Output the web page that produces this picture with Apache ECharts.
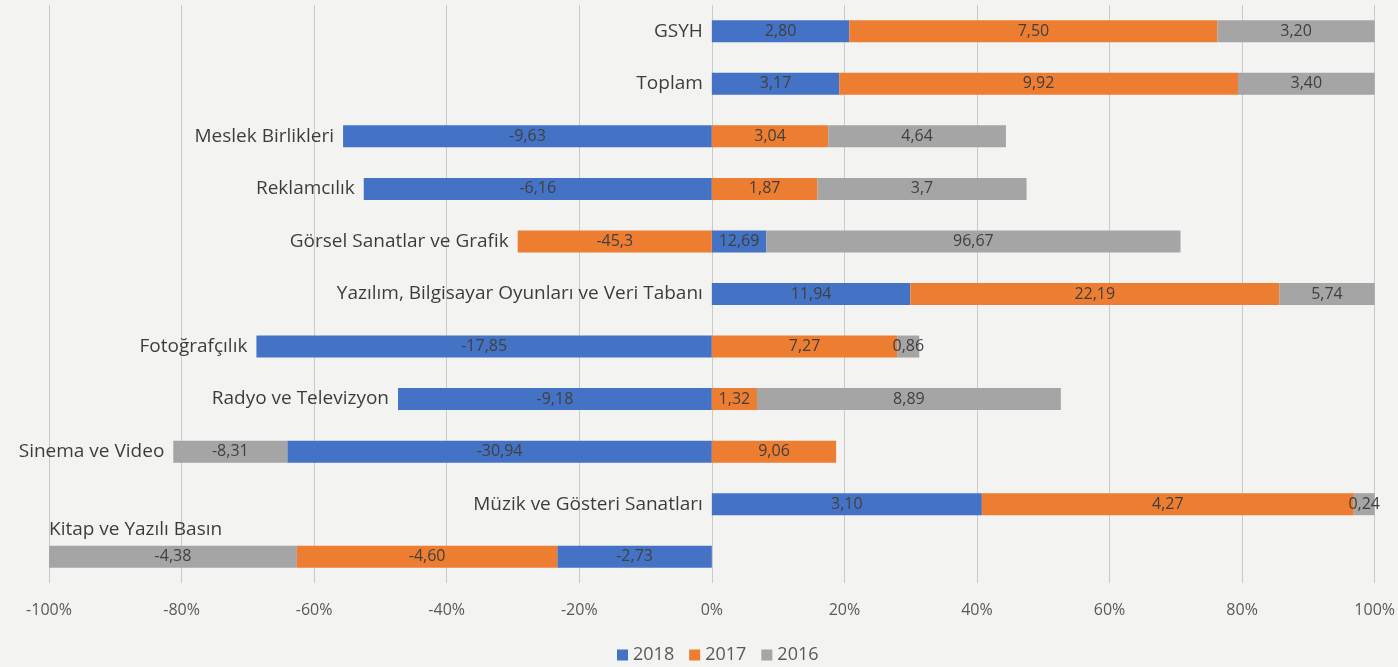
<!DOCTYPE html>
<html>
<head>
<meta charset="utf-8">
<script src="https://cdn.jsdelivr.net/npm/echarts@6/dist/echarts.min.js"></script>
<style>
html,body{margin:0;padding:0;background:#f3f3f1;}
#c{width:1398px;height:667px;}
</style>
</head>
<body>
<div id="c"></div>
<script>
var categories = ['GSYH','Toplam','Meslek Birlikleri','Reklamcılık','Görsel Sanatlar ve Grafik','Yazılım, Bilgisayar Oyunları ve Veri Tabanı','Fotoğrafçılık','Radyo ve Televizyon','Sinema ve Video','Müzik ve Gösteri Sanatları','Kitap ve Yazılı Basın'];
var seriesNames = ['2018','2017','2016'];
var v2018 = ['2.80','3.17','-9.63','-6.16','12.69','11.94','-17.85','-9.18','-30.94','3.10','-2.73'];
var v2017 = ['7.50','9.92','3.04','1.87','-45.3','22.19','7.27','1.32','9.06','4.27','-4.60'];
var v2016 = ['3.20','3.40','4.64','3.7','96.67','5.74','0.86','8.89','-8.31','0.24','-4.38'];
var xTicks = {min:-100, max:100, interval:20};
var colors = ['#4472C4','#ED7D31','#A5A5A5'];

var raw = [v2018, v2017, v2016];
var totals = categories.map(function(_, i){
  return raw.reduce(function(s, arr){ return s + Math.abs(parseFloat(arr[i])); }, 0);
});
var negEnds = categories.map(function(_, i){
  var n = raw.reduce(function(s, arr){ var v = parseFloat(arr[i]); return s + (v < 0 ? v : 0); }, 0);
  return n / totals[i] * 100;
});

var barSeries = raw.map(function(arr, k){
  return {
    name: seriesNames[k],
    type: 'bar',
    stack: 'total',
    barWidth: 22,
    itemStyle: {color: colors[k]},
    label: {
      show: true,
      position: 'inside',
      color: '#404040',
      fontSize: 16,
      fontFamily: 'Open Sans',
      formatter: function(p){ return arr[p.dataIndex].replace('.', ','); }
    },
    data: arr.map(function(s, i){ return parseFloat(s) / totals[i] * 100; })
  };
});

var nameSeries = {
  type: 'scatter',
  symbolSize: 0,
  silent: true,
  z: 5,
  label: {
    show: true,
    position: 'left',
    distance: 9,
    color: '#0d0d0d',
    fontSize: 19,
    fontFamily: 'Open Sans',
    formatter: function(p){ return categories[p.dataIndex]; }
  },
  data: categories.map(function(c, i){
    var d = {value: [negEnds[i], i]};
    if (negEnds[i] <= -99.9) {
      d.label = {position: [0, -27], align: 'left', verticalAlign: 'middle'};
    }
    return d;
  })
};

var chart = echarts.init(document.getElementById('c'));
chart.setOption({
  backgroundColor: '#f3f3f1',
  animation: false,
  grid: {left: 49, right: 23, top: 5, bottom: 84},
  legend: {
    data: seriesNames,
    top: 641,
    left: 612,
    itemWidth: 11,
    itemHeight: 11,
    itemGap: 15,
    icon: 'rect',
    textStyle: {color: '#595959', fontSize: 18, fontFamily: 'Open Sans'}
  },
  xAxis: {
    type: 'value',
    min: xTicks.min,
    max: xTicks.max,
    interval: xTicks.interval,
    axisLine: {show: false},
    axisTick: {show: false},
    axisLabel: {formatter: '{value}%', color: '#595959', fontSize: 16, fontFamily: 'Open Sans', margin: 19},
    splitLine: {lineStyle: {color: '#cacaca', width: 1}}
  },
  yAxis: {
    type: 'category',
    inverse: true,
    data: categories,
    show: false
  },
  series: barSeries.concat([nameSeries])
});
</script>
</body>
</html>
